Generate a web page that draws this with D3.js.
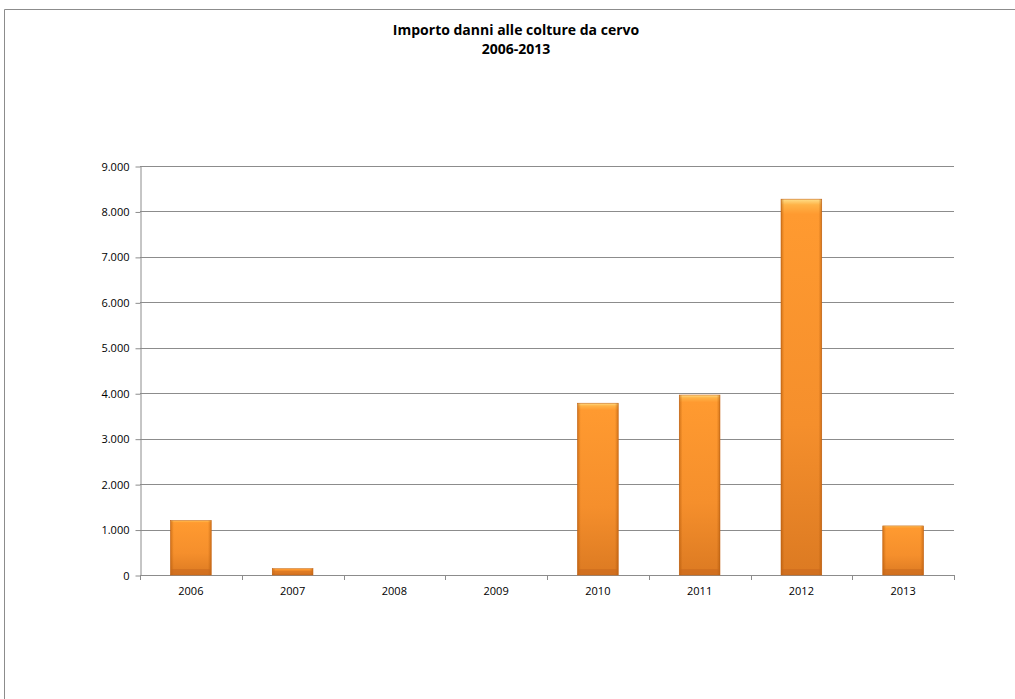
<!DOCTYPE html>
<html>
<head>
  <meta charset="utf-8">
  <title>Importo danni alle colture da cervo</title>
  <script src="https://cdn.jsdelivr.net/npm/d3@7"></script>
  <style>
    body { margin: 0; background: #fff; }
    text { font-family: "Open Sans", "Liberation Sans", sans-serif; }
  </style>
</head>
<body>
  <div id="chart"></div>
  <script>
    // data
    const years = ["2006", "2007", "2008", "2009", "2010", "2011", "2012", "2013"];
    const damages = [1200, 140, 0, 0, 3780, 3960, 8270, 1080];
    const yTicks = [0, 1000, 2000, 3000, 4000, 5000, 6000, 7000, 8000, 9000];
    const titleLines = ["Importo danni alle colture da cervo", "2006-2013"];

    const width = 1015, height = 699;
    const margins = { top: 166, right: 61, bottom: 124, left: 140 };

    const svg = d3.select("#chart").append("svg")
      .attr("width", width)
      .attr("height", height);

    // frame of the chart object (only top and left edges show)
    svg.append("path")
      .attr("d", `M4.5,${height} L4.5,9.5 L${width},9.5`)
      .attr("fill", "none")
      .attr("stroke", "#8c8c8c")
      .attr("stroke-width", 1);

    const x = d3.scaleBand()
      .domain(years)
      .range([margins.left, width - margins.right])
      .paddingInner(0.6)
      .paddingOuter(0.3);

    const xBoundary = d3.scaleLinear()
      .domain([0, years.length])
      .range([margins.left, width - margins.right]);

    const y = d3.scaleLinear()
      .domain([0, 9000])
      .range([height - margins.bottom, margins.top]);

    const fmt = d => d3.format(",")(d).replace(/,/g, ".");

    // gradients for the bars
    const defs = svg.append("defs");
    const vg = defs.append("linearGradient")
      .attr("id", "barV").attr("x1", 0).attr("y1", 0).attr("x2", 0).attr("y2", 1);
    vg.append("stop").attr("offset", "0%").attr("stop-color", "#ffe08a");
    vg.append("stop").attr("offset", "1.5%").attr("stop-color", "#ffb347");
    vg.append("stop").attr("offset", "4%").attr("stop-color", "#ff9a30");
    vg.append("stop").attr("offset", "60%").attr("stop-color", "#f58f2c");
    vg.append("stop").attr("offset", "100%").attr("stop-color", "#dc7a22");

    const hg = defs.append("linearGradient")
      .attr("id", "barH").attr("x1", 0).attr("y1", 0).attr("x2", 1).attr("y2", 0);
    hg.append("stop").attr("offset", "0%").attr("stop-color", "#a04a00").attr("stop-opacity", 0.45);
    hg.append("stop").attr("offset", "8%").attr("stop-color", "#a04a00").attr("stop-opacity", 0);
    hg.append("stop").attr("offset", "92%").attr("stop-color", "#a04a00").attr("stop-opacity", 0);
    hg.append("stop").attr("offset", "100%").attr("stop-color", "#a04a00").attr("stop-opacity", 0.45);

    // gridlines
    svg.append("g")
      .selectAll("line")
      .data(yTicks.slice(1))
      .join("line")
      .attr("x1", margins.left)
      .attr("x2", width - margins.right)
      .attr("y1", d => Math.round(y(d)) + 0.5)
      .attr("y2", d => Math.round(y(d)) + 0.5)
      .attr("stroke", "#8c8c8c");

    // y axis
    const yAxis = svg.append("g")
      .attr("transform", `translate(${margins.left + 0.5},0.5)`)
      .call(d3.axisLeft(y).tickValues(yTicks).tickFormat(fmt).tickSize(5).tickPadding(6).tickSizeOuter(0));
    yAxis.select(".domain").attr("stroke", "#8c8c8c");
    yAxis.selectAll(".tick line").attr("stroke", "#8c8c8c");
    yAxis.selectAll(".tick text")
      .attr("fill", "#000")
      .style("font-size", "11px")
      .style("font-family", "'Open Sans', sans-serif");

    // x axis line with ticks between categories
    const xg = svg.append("g");
    xg.append("line")
      .attr("x1", margins.left)
      .attr("x2", width - margins.right)
      .attr("y1", y(0) + 0.5)
      .attr("y2", y(0) + 0.5)
      .attr("stroke", "#8c8c8c");
    xg.selectAll(".xtick")
      .data(d3.range(years.length + 1))
      .join("line")
      .attr("class", "xtick")
      .attr("x1", i => Math.round(xBoundary(i)) + 0.5)
      .attr("x2", i => Math.round(xBoundary(i)) + 0.5)
      .attr("y1", y(0))
      .attr("y2", y(0) + 5)
      .attr("stroke", "#8c8c8c");
    xg.selectAll(".xlabel")
      .data(years)
      .join("text")
      .attr("class", "xlabel")
      .attr("x", d => x(d) + x.bandwidth() / 2)
      .attr("y", y(0) + 20)
      .attr("text-anchor", "middle")
      .style("font-size", "11px")
      .text(d => d);

    // bars
    const bars = svg.append("g")
      .selectAll("g")
      .data(years.map((d, i) => ({ year: d, value: damages[i] })).filter(d => d.value > 0))
      .join("g");

    bars.append("rect")
      .attr("x", d => x(d.year))
      .attr("y", d => y(d.value))
      .attr("width", x.bandwidth())
      .attr("height", d => y(0) - y(d.value))
      .attr("fill", "url(#barV)")
      .attr("stroke", "#c9681a")
      .attr("stroke-width", 0.6);

    bars.append("rect")
      .attr("x", d => x(d.year))
      .attr("y", d => y(d.value))
      .attr("width", x.bandwidth())
      .attr("height", d => y(0) - y(d.value))
      .attr("fill", "url(#barH)");

    // darker band at the foot of each bar
    bars.append("rect")
      .attr("x", d => x(d.year) + 1)
      .attr("y", d => Math.max(y(d.value) + 2, y(0) - 6))
      .attr("width", x.bandwidth() - 2)
      .attr("height", d => Math.min(6, y(0) - y(d.value) - 2))
      .attr("fill", "#c8681e")
      .attr("opacity", 0.55);

    // title
    svg.append("text")
      .attr("text-anchor", "middle")
      .style("font-size", "14px")
      .style("font-weight", "bold")
      .selectAll("tspan")
      .data(titleLines)
      .join("tspan")
      .attr("x", 516)
      .attr("y", (d, i) => 35 + i * 19)
      .text(d => d);
  </script>
</body>
</html>
